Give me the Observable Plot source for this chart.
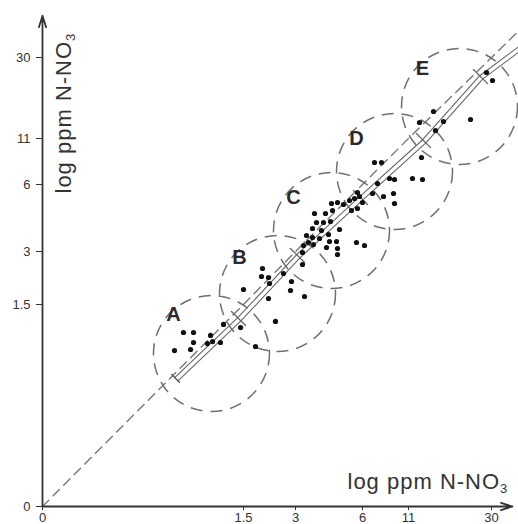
<!DOCTYPE html>
<html><head><meta charset="utf-8">
<script src="https://cdn.jsdelivr.net/npm/d3@7"></script>
<script src="https://cdn.jsdelivr.net/npm/@observablehq/plot@0.6"></script>
<style>
html,body{margin:0;padding:0;background:#fff;overflow:hidden;}
#chart svg{display:block;}
</style></head><body><div id="chart"></div>
<script>
// ---- data (values in ppm N-NO3) ----
const xTicks = [0, 1.5, 3, 6, 11, 30];
const yTicks = [0, 1.5, 3, 6, 11, 30];
const axisTitle = "log ppm N-NO₃";
const groupNames = ["A", "B", "C", "D", "E"];
const circleX = [1.261, 2.481, 4.612, 9.478, 22.675];
const circleY = [1.136, 1.811, 3.940, 7.413, 18.506];
const letterX = [0.978, 1.470, 2.942, 5.731, 14.205];
const letterY = [1.426, 2.830, 5.418, 11.0, 27.42];
const groupA = [[0.985,1.158],[1.052,1.292],[1.127,1.292],[1.127,1.218],[1.105,1.166],[1.254,1.270],[1.231,1.210],[1.269,1.225],[1.328,1.218],[1.351,1.352],[1.478,1.329],[1.846,1.188]];
const groupB = [[1.5,1.925],[2.048,2.519],[2.019,2.292],[2.221,2.264],[2.25,2.094],[2.654,2.377],[2.885,2.151],[2.856,1.896],[3.403,1.726],[2.221,1.670],[2.423,1.374],[3.313,2.632]];
const groupC = [[3.313,2.972],[3.358,3.269],[3.493,3.716],[3.582,3.403],[3.761,3.627],[3.806,3.313],[4.075,3.582],[3.761,4.030],[4.164,3.940],[3.940,4.299],[4.254,4.299],[4.567,4.343],[3.851,4.701],[4.343,4.701],[4.657,4.836],[4.612,5.149],[4.881,5.194],[4.970,3.985],[4.478,3.761],[4.522,3.448],[4.388,3.179],[4.836,3.448],[4.881,3.134],[4.881,2.915],[5.731,3.403],[6.217,3.269],[5.149,5.104],[5.418,5.284],[5.642,5.373],[5.866,5.463],[6.0,5.194],[5.776,4.925],[5.507,4.836],[5.776,5.642]];
const groupD = [[7.087,5.597],[7.630,6.109],[8.283,5.463],[9.370,5.597],[9.478,5.149],[8.935,6.652],[9.478,6.543],[11.916,6.652],[14.205,6.543],[7.304,8.391],[8.065,8.391],[13.976,8.935]];
const groupE = [[13.518,14.753],[16.723,17.333],[19.012,14.988],[17.181,12.877],[25.193,15.457],[28.855,26.481],[30.229,24.605]];
const identityLine = [0, 1.5, 3, 6, 11, 30, 37];
const fitLine = [[0.993,0.951],[1.463,1.396],[3.090,2.887],[5.910,5.418],[14.43,10.78],[27.48,25.54],[36.18,32.2]];
const xAxisEnd = 34.8;
const yAxisEnd = 39.8;

// ---- chart ----
const allPoints = [...groupA, ...groupB, ...groupC, ...groupD, ...groupE];
const segmentStart = fitLine.slice(0, 1);
const segmentBounds = fitLine.slice(1, 6);
const tickShape = {draw(context, l) { context.moveTo(0, 0); context.lineTo(0, -l); }};

const chart = Plot.plot({
  width: 518, height: 524,
  marginLeft: 42, marginBottom: 18, marginTop: 0, marginRight: 0,
  style: {fontFamily: "'Liberation Sans', Arial, sans-serif", fontSize: "13px", color: "#333", background: "#fff"},
  x: {type: "linear", domain: xTicks, range: [42, 243, 295, 362, 408, 491], ticks: xTicks, tickSize: 4, tickPadding: 2, tickFormat: d => String(d), label: null},
  y: {type: "linear", domain: yTicks, range: [506, 304, 251, 184, 138, 57], ticks: yTicks, tickSize: 6, tickPadding: 6, tickFormat: d => String(d), label: null},
  marks: [
    Plot.line(identityLine, {x: d => d, y: d => d, stroke: "#777", strokeWidth: 1.4, strokeDasharray: "9,6"}),
    Plot.line(fitLine, {x: d => d[0], y: d => d[1], stroke: "#666", strokeWidth: 1.1, dx: -0.8, dy: -0.8}),
    Plot.line(fitLine, {x: d => d[0], y: d => d[1], stroke: "#666", strokeWidth: 1.1, dx: 2.4, dy: 2.4}),
    Plot.vector(segmentStart, {x: d => d[0], y: d => d[1], length: 11, rotate: -45, anchor: "middle", shape: tickShape, stroke: "#555", strokeWidth: 1.3}),
    Plot.vector(segmentBounds, {x: d => d[0], y: d => d[1], length: 20, rotate: -45, anchor: "middle", shape: tickShape, stroke: "#666", strokeWidth: 1.3}),
    Plot.dot(groupNames, {x: (d, i) => circleX[i], y: (d, i) => circleY[i], r: 58, fill: "none", stroke: "#6f6f6f", strokeWidth: 1.5, strokeDasharray: "12,8"}),
    Plot.dot(allPoints, {x: d => d[0], y: d => d[1], r: 2.6, fill: "#111", stroke: "none"}),
    Plot.text(groupNames, {x: (d, i) => letterX[i], y: (d, i) => letterY[i], text: d => d, fontSize: 20, fontWeight: "bold", fill: "#2a2a2a"}),
    Plot.arrow([0], {x1: 0, y1: 0, x2: 0, y2: yAxisEnd, stroke: "#333", strokeWidth: 1.8, headLength: 10, headAngle: 35}),
    Plot.arrow([0], {x1: 0, y1: 0, x2: xAxisEnd, y2: 0, stroke: "#333", strokeWidth: 1.8, headLength: 10, headAngle: 35}),
    Plot.text([axisTitle], {frameAnchor: "top-left", dx: 21, dy: 193, rotate: -90, textAnchor: "start", lineAnchor: "middle", fontSize: 22, fill: "#333"}),
    Plot.text([axisTitle], {frameAnchor: "top-left", dx: 305, dy: 481, textAnchor: "start", lineAnchor: "middle", fontSize: 22, fill: "#333"})
  ]
});
document.getElementById("chart").appendChild(chart);

// subscript the "3" of NO3 in the axis titles
d3.select(chart).selectAll("text").each(function() {
  if (this.textContent === axisTitle) {
    const sel = d3.select(this);
    sel.selectAll("*").remove();
    sel.text(null);
    sel.attr("letter-spacing", "1px");
    sel.append("tspan").text("log ppm N-NO");
    sel.append("tspan").attr("font-size", "13px").attr("dy", "0.35em").text("3");
  }
});
</script>
</body></html>
